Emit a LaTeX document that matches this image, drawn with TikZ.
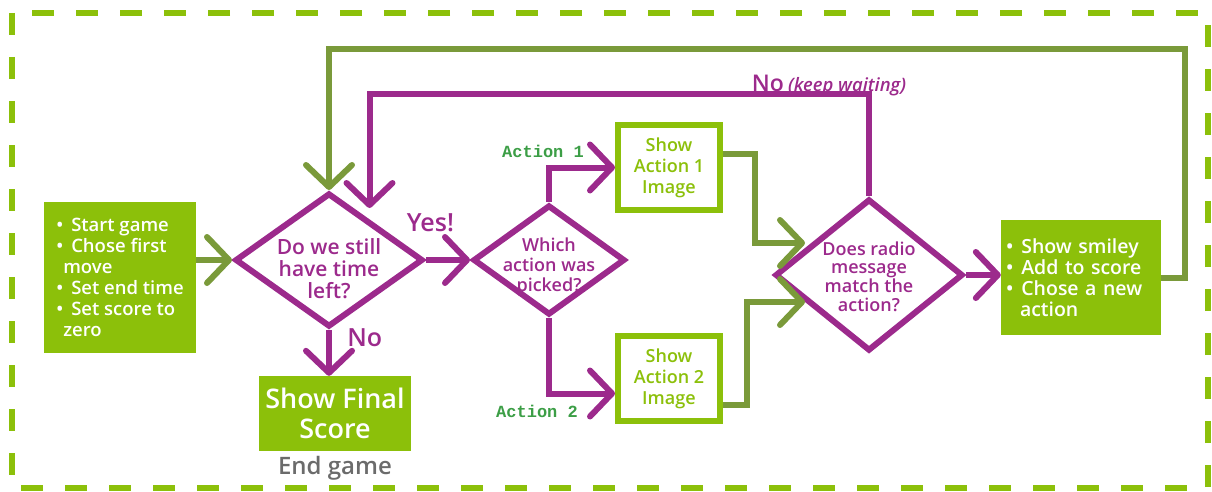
\documentclass[tikz,border=0pt]{standalone}
\usepackage{fontspec}
\setmainfont{Open Sans}[BoldFont={Open Sans Semibold}]
\setmonofont{Liberation Mono}
\usetikzlibrary{shapes.geometric, arrows.meta}
\definecolor{limeg}{HTML}{8CC00A}
\definecolor{oliveg}{HTML}{7A9A3A}
\definecolor{purp}{HTML}{9C2A8C}
\definecolor{labelg}{HTML}{3C9E46}
\definecolor{endgray}{HTML}{6B6B6B}
\newcommand{\lowtext}[2]{\raisebox{-#1}[0pt][0pt]{\begin{tabular}{@{}c@{}}#2\end{tabular}}}
\tikzstyle{greenn} = [rectangle, fill=limeg, text=white, minimum width=152pt, inner sep=0pt, font=\bfseries\fontsize{18.5}{21}\selectfont, align=left]
\tikzstyle{decision} = [diamond, draw=purp, line width=6pt, text=purp, inner sep=0pt]
\tikzstyle{shown} = [rectangle, draw=limeg, line width=6pt, fill=white, text=limeg, minimum width=102pt, minimum height=85pt, font=\bfseries\fontsize{18}{21}\selectfont, align=center]
\tikzstyle{arrow} = [line width=6pt, draw=oliveg, -{Straight Barb[length=22pt, width=46pt, round]}]
\tikzstyle{parrow} = [arrow, draw=purp]
\tikzstyle{yesno} = [text=purp, font=\bfseries\fontsize{25}{25}\selectfont]
\tikzstyle{actlbl} = [text=labelg, font=\ttfamily\bfseries\fontsize{17}{17}\selectfont]

\begin{document}
\begin{tikzpicture}[x=1pt, y=-1pt, node distance=100pt]
  \useasboundingbox (0,0) rectangle (1212,492);
  \draw [limeg, line width=6pt, dash pattern=on 22pt off 22pt] (12,13) rectangle (1208,488);

  \node (START) [greenn, minimum height=151pt] at (120,277.5) {\textbullet\hspace{8pt}Start game\\ \textbullet\hspace{8pt}Chose first\\ \hspace*{7pt}move\\ \textbullet\hspace{8pt}Set end time\\ \textbullet\hspace{8pt}Set score to\\ \hspace*{7pt}zero};
  \node (TIME) [decision, right of=START, xshift=109pt, yshift=17.5pt, minimum width=188pt, minimum height=134pt, font=\bfseries\fontsize{21}{21}\selectfont] {\lowtext{17pt}{Do we still\\have time\\left?}};
  \node (FINL) [greenn, below of=TIME, xshift=6pt, yshift=-53.5pt, minimum height=75pt, align=center, font=\bfseries\fontsize{27}{30}\selectfont] {Show Final\\Score};
  \node (ENDG) [below of=FINL, yshift=45pt, text=endgray, font=\bfseries\fontsize{24}{24}\selectfont] {End game};
  \node (PICK) [decision, right of=TIME, xshift=120pt, minimum width=152pt, minimum height=110pt, font=\bfseries\fontsize{18}{20}\selectfont] {\lowtext{12pt}{Which\\action was\\picked?}};
  \node (ACT1) [shown, right of=PICK, xshift=20pt, yshift=92.5pt] {Show\\Action 1\\Image};
  \node (ACT2) [shown, right of=PICK, xshift=20pt, yshift=-118.5pt] {Show\\Action 2\\Image};
  \node (MTCH) [decision, right of=PICK, xshift=220pt, yshift=-15pt, minimum width=188pt, minimum height=152pt, font=\bfseries\fontsize{18}{18}\selectfont] {\lowtext{9pt}{Does radio\\message\\match the\\action?}};
  \node (SCOR) [greenn, right of=MTCH, xshift=112pt, yshift=-2.5pt, minimum width=160pt, minimum height=115pt, text width=150pt, font=\bfseries\fontsize{19.5}{21}\selectfont] {\textbullet\hspace{8pt}Show smiley\\ \textbullet\hspace{8pt}Add to score\\ \textbullet\hspace{8pt}Chose a new\\ \hspace*{14pt}action\\[6pt]};

  \coordinate (IN1) at ([xshift=-64pt, yshift=32pt]MTCH.center);
  \coordinate (IN2) at ([xshift=-64pt, yshift=-27pt]MTCH.center);

  \draw [arrow] (START.east |- TIME.west) -- (TIME.west);
  \draw [parrow] (TIME.south) -- node[yesno, pos=0.1, right=12pt, yshift=-3pt] {No} (TIME.south |- FINL.north);
  \draw [parrow] (TIME.east) -- node[yesno, pos=0.1, above=22pt] {Yes!} (TIME.east -| PICK.west);
  \draw [parrow] (PICK.north) |- node[actlbl, pos=0.5, above=4pt, xshift=-6pt] {Action 1} (ACT1.west);
  \draw [parrow] (PICK.south) |- node[actlbl, pos=0.5, below=5pt, xshift=-12pt] {Action 2} ([yshift=-15pt]ACT2.west);
  \draw [arrow] ([yshift=14pt]ACT1.east) -| ([xshift=-50pt]IN1) -- (IN1);
  \draw [arrow] ([yshift=-26pt]ACT2.east) -| ([xshift=-58pt]IN2) -- (IN2);
  \draw [parrow] (MTCH.east) -- (MTCH.east -| SCOR.west);
  \draw [arrow] (SCOR.east) -- ++(24,0) -- ++(0,-228) -| (TIME.north);
  \draw [parrow] (MTCH.north) -- ++(0,-102) -| node[pos=0.04, above=0pt, yshift=-8pt, text=purp] {{\bfseries\fontsize{23}{23}\selectfont No}\hspace{4pt}{\bfseries\itshape\fontsize{18.5}{18.5}\selectfont (keep waiting)}} ([xshift=-8pt,yshift=17pt]TIME.north east);
\end{tikzpicture}
\end{document}
